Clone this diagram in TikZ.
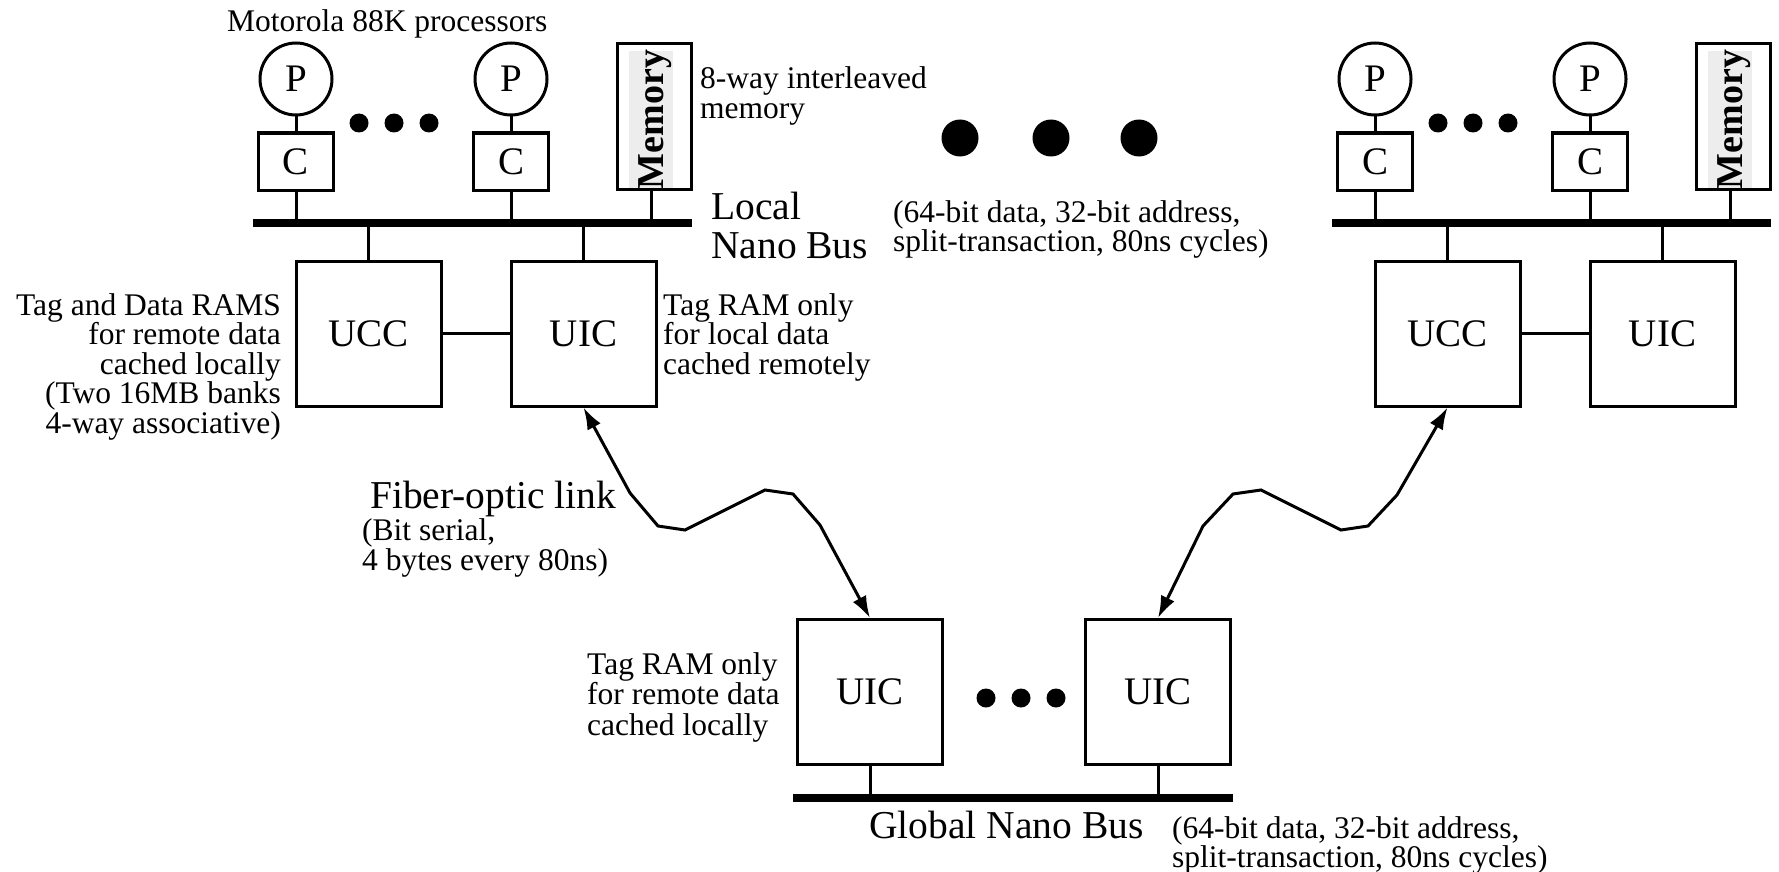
\documentclass[tikz,border=0pt]{standalone}
\usepackage{fontspec}
\setmainfont{Liberation Serif}
\usetikzlibrary{arrows.meta}
\begin{document}
\begin{tikzpicture}[x=1pt,y=-1pt,
  bigfont/.style={font=\fontsize{39}{39}\selectfont},
  box/.style={draw, line width=3pt, minimum width=145pt, minimum height=145pt, inner sep=0, bigfont},
  cbox/.style={draw, line width=3pt, minimum width=75pt, minimum height=57pt, inner sep=0, bigfont},
  proc/.style={draw, circle, line width=3pt, minimum size=72pt, inner sep=0, bigfont},
  membox/.style={draw, line width=3pt, minimum width=74pt, minimum height=145pt, inner sep=0},
  memgray/.style={fill=black!7, minimum width=44pt, minimum height=136pt, inner sep=0},
  memtxt/.style={rotate=90, inner sep=0, font=\bfseries\fontsize{38}{38}\selectfont},
  bus/.style={line width=8pt},
  wire/.style={line width=3pt},
  link/.style={line width=3pt, line join=miter, {Latex[length=22pt,width=15pt]}-{Latex[length=22pt,width=15pt]}},
  dot/.style={circle, fill, inner sep=0, minimum size=19pt},
  bigdot/.style={circle, fill, inner sep=0, minimum size=37pt},
  lbl/.style={inner sep=0, font=\fontsize{31.5}{29.5}\selectfont},
  lblb/.style={inner sep=0, font=\fontsize{31.5}{30.5}\selectfont},
  biglbl/.style={inner sep=0, font=\fontsize{39.5}{39}\selectfont},
]
\useasboundingbox (0,0) rectangle (1779,872);

\foreach \s/\n in {0/L,1079/R}{
  \begin{scope}[xshift=\s pt]
    \node[proc] (p1\n) at (296,79) {P};
    \node[cbox] (c1\n) at (296,161.5) {C};
    \node[proc] (p2\n) at (511,79) {P};
    \node[cbox] (c2\n) at (511,161.5) {C};
    \node[dot] (d1\n) at (359,123) {};
    \node[dot] (d2\n) at (394,123) {};
    \node[dot] (d3\n) at (429,123) {};
    \node[membox] (m\n) at (654.5,116.5) {};
    \node[memgray] (mg\n) at (651,119.5) {};
    \node[memtxt] (mt\n) at (655.5,119.5) {Memory};
    \coordinate (bl\n) at (253,223);
    \coordinate (br\n) at (692,223);
    \node[box] (ucc\n) at (368.5,333.5) {UCC};
    \node[box] (uic\n) at (583.5,333.5) {UIC};
    \draw[wire] (p1\n) -- (c1\n);
    \draw[wire] (p2\n) -- (c2\n);
    \draw[wire] (c1\n.south) -- (c1\n.south |- bl\n);
    \draw[wire] (c2\n.south) -- (c2\n.south |- bl\n);
    \draw[wire] (mg\n.south |- m\n.south) -- (mg\n.south |- bl\n);
    \draw[wire] (ucc\n.north) -- (ucc\n.north |- bl\n);
    \draw[wire] (uic\n.north) -- (uic\n.north |- bl\n);
    \draw[wire] (ucc\n.east) -- (uic\n.west);
    \draw[bus] (bl\n) -- (br\n);
  \end{scope}
}

% middle dots
\node[bigdot] (bd1) at (960,138) {};
\node[bigdot] (bd2) at (1051,138) {};
\node[bigdot] (bd3) at (1139,138) {};

% global side
\node[box] (g1) at (870,692) {UIC};
\node[box] (g2) at (1158,692) {UIC};
\node[dot] (gd1) at (986,698) {};
\node[dot] (gd2) at (1021,698) {};
\node[dot] (gd3) at (1056,698) {};
\coordinate (gbl) at (793,798);
\coordinate (gbr) at (1233,798);
\draw[wire] (g1.south) -- (g1.south |- gbl);
\draw[wire] (g2.south) -- (g2.south |- gbl);
\draw[bus] (gbl) -- (gbr);

% fiber-optic links
\draw[link] (uicL.south) -- (630,493) -- (658,526) -- (685,530) -- (765,490) -- (793,494) -- (820,525) -- (g1.north);
\draw[link] (uccR.south) -- (1397,495) -- (1368,526) -- (1341,530) -- (1261,490) -- (1233,494) -- (1203,526) -- (g2.north);

% labels
\node[lbl, anchor=base west] (tmot) at (227,32) {Motorola 88K processors};
\node[lblb, anchor=north west, align=left] (tmem) at (700,66) {8-way interleaved\\memory};
\node[biglbl, anchor=north west, align=left] (tloc) at (711,192) {Local\\Nano Bus};
\node[lbl, anchor=north west, align=left] (tlbus) at (893,200) {(64-bit data, 32-bit address,\\split-transaction, 80ns cycles)};
\node[lbl, anchor=north east, align=right] (tucc) at (281,293) {Tag and Data RAMS\\for remote data\\cached locally\\(Two 16MB banks\\4-way associative)};
\node[lbl, anchor=north west, align=left] (tuic) at (663,293) {Tag RAM only\\for local data\\cached remotely};
\node[biglbl, anchor=base west] (tfib) at (370,508) {Fiber-optic link};
\node[lblb, anchor=north west, align=left] (tbit) at (362,518) {(Bit serial,\\4 bytes every 80ns)};
\node[lblb, anchor=north west, align=left] (tguic) at (587,652) {Tag RAM only\\for remote data\\cached locally};
\node[biglbl, anchor=base west] (tgbus) at (869,838) {Global Nano Bus};
\node[lbl, anchor=north west, align=left] (tgdesc) at (1172,816) {(64-bit data, 32-bit address,\\split-transaction, 80ns cycles)};
\end{tikzpicture}
\end{document}
